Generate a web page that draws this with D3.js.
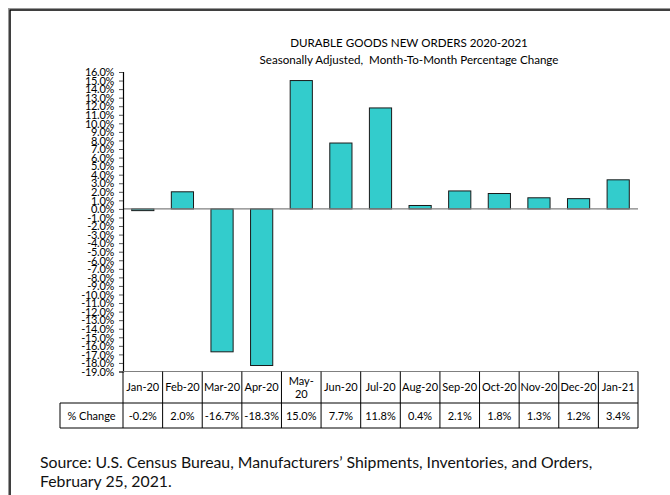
<!DOCTYPE html>
<html>
<head>
<meta charset="utf-8">
<script src="https://cdn.jsdelivr.net/npm/d3@7"></script>
<style>
  body { margin: 0; background: #fff; }
  text { font-family: Lato, "Open Sans", sans-serif; fill: #000; }
</style>
</head>
<body>
<div id="chart"></div>
<script>
// data
const months = ['Jan-20', 'Feb-20', 'Mar-20', 'Apr-20', 'May-20', 'Jun-20', 'Jul-20',
  'Aug-20', 'Sep-20', 'Oct-20', 'Nov-20', 'Dec-20', 'Jan-21'];
const pctChange = [-0.2, 2.0, -16.7, -18.3, 15.0, 7.7, 11.8, 0.4, 2.1, 1.8, 1.3, 1.2, 3.4];
const yTicks = d3.range(-19, 17, 1);
const titleLines = ['DURABLE GOODS NEW ORDERS 2020-2021', 'Seasonally Adjusted,  Month-To-Month Percentage Change'];
const sourceLines = ['Source: U.S. Census Bureau, Manufacturers\u2019 Shipments, Inventories, and Orders,', 'February 25, 2021.'];

const width = 670, height = 495;
const svg = d3.select('#chart').append('svg')
  .attr('width', width)
  .attr('height', height);

// outer frame (runs off the page on right / bottom)
svg.append('rect')
  .attr('x', 8.5).attr('y', 8.5)
  .attr('width', 720).attr('height', 600)
  .attr('fill', 'none').attr('stroke', '#999').attr('stroke-width', 1);
svg.append('rect')
  .attr('x', 10).attr('y', 10)
  .attr('width', 720).attr('height', 600)
  .attr('fill', 'none').attr('stroke', '#000').attr('stroke-width', 1.5);

// title
svg.selectAll('.title')
  .data(titleLines)
  .enter().append('text')
  .attr('class', 'title')
  .attr('x', 409)
  .attr('y', (d, i) => 47 + i * 17)
  .attr('text-anchor', 'middle')
  .style('font-size', '11.6px')
  .style('white-space', 'pre')
  .text(d => d);

// scales
const x = d3.scaleBand()
  .domain(months)
  .range([123, 638])
  .paddingInner(0.44)
  .paddingOuter(0.22);

const y = d3.scaleLinear()
  .domain([-19, 16])
  .range([371.5, 72]);

// bars
svg.selectAll('.bar')
  .data(months)
  .enter().append('rect')
  .attr('class', 'bar')
  .attr('x', d => x(d))
  .attr('width', x.bandwidth())
  .attr('y', (d, i) => y(Math.max(0, pctChange[i])))
  .attr('height', (d, i) => Math.abs(y(pctChange[i]) - y(0)))
  .attr('fill', '#33CCCC')
  .attr('stroke', '#1a1a1a')
  .attr('stroke-width', 1);

// zero line
svg.append('line')
  .attr('x1', 123).attr('x2', 638)
  .attr('y1', y(0)).attr('y2', y(0))
  .attr('stroke', '#808080').attr('stroke-width', 1.2);

// y axis
const yAxis = svg.append('g')
  .attr('transform', 'translate(123,0)')
  .call(d3.axisLeft(y)
    .tickValues(yTicks)
    .tickFormat(d => d.toFixed(1) + '%')
    .tickSize(4)
    .tickPadding(5));
yAxis.select('.domain').attr('stroke', '#000').attr('stroke-width', 1.2);
yAxis.selectAll('.tick line').attr('stroke', '#555');
yAxis.selectAll('.tick text')
  .style('font-size', '11px')
  .style('font-family', 'Lato, sans-serif')
  .attr('dy', '0.34em')
  .attr('letter-spacing', '-0.3px');

// data table under the axis
const colStep = x.step();
const tTop = y(-19), tMid = 403, tBot = 428, labelLeft = 60;
const table = svg.append('g').attr('stroke', '#000').attr('stroke-width', 1);

// horizontal rules
table.append('line').attr('x1', 123).attr('x2', 638).attr('y1', tTop).attr('y2', tTop).attr('stroke', '#808080');
table.append('line').attr('x1', labelLeft).attr('x2', 638).attr('y1', tMid).attr('y2', tMid);
table.append('line').attr('x1', labelLeft).attr('x2', 638).attr('y1', tBot).attr('y2', tBot);
// vertical rules
table.append('line').attr('x1', 123).attr('x2', 123).attr('y1', tTop).attr('y2', tBot);
table.append('line').attr('x1', labelLeft).attr('x2', labelLeft).attr('y1', tMid).attr('y2', tBot);
table.selectAll('.vsep')
  .data(months)
  .enter().append('line')
  .attr('class', 'vsep')
  .attr('x1', d => x(d) + x.bandwidth() + (colStep - x.bandwidth()) / 2)
  .attr('x2', d => x(d) + x.bandwidth() + (colStep - x.bandwidth()) / 2)
  .attr('y1', tTop).attr('y2', tBot);

// header labels (May-20 wraps in the original)
const cx = d => x(d) + x.bandwidth() / 2;
months.forEach(m => {
  const t = svg.append('text')
    .attr('x', cx(m))
    .attr('text-anchor', 'middle')
    .style('font-size', '11px');
  if (m === 'May-20') {
    t.append('tspan').attr('x', cx(m)).attr('y', tTop + 13).text('May-');
    t.append('tspan').attr('x', cx(m)).attr('y', tTop + 26).text('20');
  } else {
    t.attr('y', (tTop + tMid) / 2 + 4).text(m);
  }
});

svg.append('text')
  .attr('x', (labelLeft + 123) / 2)
  .attr('y', (tMid + tBot) / 2 + 4)
  .attr('text-anchor', 'middle')
  .style('font-size', '11px')
  .text('% Change');

svg.selectAll('.val')
  .data(months)
  .enter().append('text')
  .attr('class', 'val')
  .attr('x', cx)
  .attr('y', (tMid + tBot) / 2 + 4)
  .attr('text-anchor', 'middle')
  .style('font-size', '11px')
  .text((d, i) => pctChange[i].toFixed(1) + '%');

// source note
svg.selectAll('.src')
  .data(sourceLines)
  .enter().append('text')
  .attr('class', 'src')
  .attr('x', 40)
  .attr('y', (d, i) => 468 + i * 19)
  .style('font-size', '15.8px')
  .style('fill', '#111')
  .text(d => d);
</script>
</body>
</html>
